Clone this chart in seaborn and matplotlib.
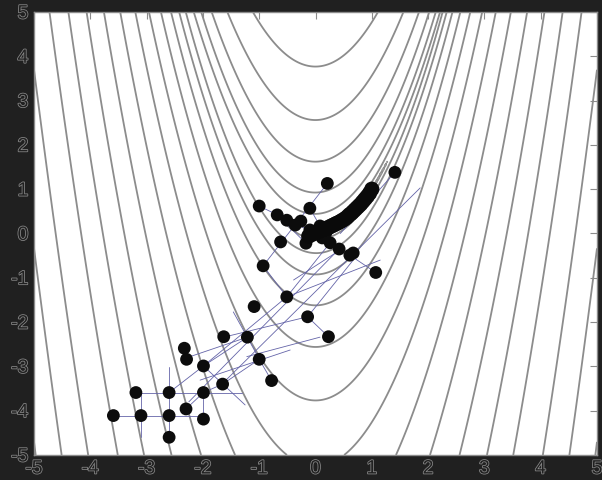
import numpy as np
import matplotlib
matplotlib.use("Agg")
import matplotlib.pyplot as plt
import matplotlib.patheffects as pe
import seaborn as sns
import pandas as pd

sns.set_style("white")
plt.rcParams["font.family"] = ["Liberation Sans", "DejaVu Sans"]

# ---- data -------------------------------------------------------------
# axis range and tick labels
x_ticks = [-5, -4, -3, -2, -1, 0, 1, 2, 3, 4, 5]
y_ticks = [-5, -4, -3, -2, -1, 0, 1, 2, 3, 4, 5]

# contour levels of the Rosenbrock surface
contour_levels = [0.084, 2.7, 20.6, 86.5, 264, 657, 1421, 2766, 4962,
                  8346, 13330, 20380, 30060, 45400, 64200, 88250, 118400]

# iterates visited by the optimizers
iter_x = [-3.59, -3.10, -2.60, -2.60, -1.99, -2.30, -3.19, -2.60, -1.99,
          -1.65, -1.99, -2.33, -2.29, -1.63, -1.21, -1.00, -0.78, -0.93,
          1.07, -0.51, -1.09, -0.14, 0.23, 0.42, 0.61, 0.67, 1.41, 0.21,
          -1.00, -0.10, -0.68, -0.51, -0.26, -0.36, -0.62, -0.17, 0.08,
          -0.10, -0.04, 0.12, 0.26, 0.19]
iter_y = [-4.11, -4.11, -4.11, -4.60, -4.19, -3.96, -3.59, -3.59, -3.59,
          -3.40, -2.99, -2.59, -2.84, -2.33, -2.34, -2.84, -3.32, -0.73,
          -0.88, -1.43, -1.65, -1.88, -2.33, -0.35, -0.49, -0.44, 1.38, 1.13,
          0.62, 0.57, 0.42, 0.30, 0.28, 0.19, -0.19, -0.22, 0.17,
          0.08, 0.01, -0.10, -0.21, 0.03]

# dense run of iterates creeping along the valley floor
valley_x = [-0.12, -0.06, 0.00, 0.04, 0.08, 0.12, 0.16, 0.20, 0.24, 0.28,
            0.32, 0.36, 0.40, 0.44, 0.48, 0.52, 0.56, 0.60, 0.64, 0.68,
            0.72, 0.76, 0.80, 0.84, 0.88, 0.92, 0.96, 1.00]
valley_y = [-0.06, -0.02, 0.02, 0.04, 0.07, 0.09, 0.11, 0.12, 0.14, 0.17,
            0.19, 0.22, 0.24, 0.27, 0.30, 0.33, 0.37, 0.42, 0.46, 0.51,
            0.56, 0.61, 0.66, 0.72, 0.78, 0.84, 0.91, 1.00]

# trailing trial points past the minimum
trail_x = [1.04, 1.08, 1.12, 1.16, 1.20, 1.24]
trail_y = [1.08, 1.17, 1.25, 1.35, 1.44, 1.54]

# search directions / steps (start x, start y, end x, end y)
seg_x0 = [-3.10, -3.10, -3.59, -2.60, -1.99, -2.60, -1.99, -1.99, -1.65,
          -2.30, -1.99, -2.23, -2.05, -1.00, -0.93, -0.14, -1.46, -1.99,
          -1.63, -1.22, -0.14, -0.51, -0.39, 0.61, -0.93, -1.00, 1.41,
          -1.63, -2.25, -0.51, -0.10, -0.68]
seg_y0 = [-3.59, -3.59, -4.11, -3.01, -3.59, -3.59, -2.99, -3.59, -3.40,
          -3.96, -2.99, -2.78, -3.31, -2.84, -0.73, -1.88, -1.77, -2.99,
          -2.34, -2.78, -1.88, -1.43, -1.05, -0.49, -0.73, 0.62, 1.38,
          -3.36, -3.80, -1.43, 0.57, 0.42]
seg_x1 = [-1.31, -3.10, -1.99, -2.60, -1.99, -1.99, -1.25, -1.65, -1.00,
          -1.99, -1.21, -1.21, -0.45, -0.78, -0.51, 0.23, -1.00, -0.51,
          -0.14, 0.08, 0.67, 1.15, 0.44, 1.07, 0.21, -0.13, 0.44,
          1.86, 0.42, 0.26, 0.08, -0.17]
seg_y1 = [-3.59, -4.59, -4.11, -4.60, -4.11, -2.99, -3.87, -3.40, -2.84,
          -3.59, -2.34, -2.34, -2.63, -3.32, -1.43, -2.33, -2.83, -1.43,
          -1.88, -2.34, -0.60, -0.60, -0.37, -0.88, 1.13, 0.08, 0.00,
          1.03, -0.35, -0.21, 0.17, -0.22]

# ---- figure -----------------------------------------------------------
bg = "#202020"
fig = plt.figure(figsize=(6.02, 4.8), dpi=100, facecolor=bg)
ax = fig.add_axes([34 / 602, 25 / 480, 563 / 602, 443 / 480])
ax.set_facecolor("white")

# Rosenbrock surface
gx = np.linspace(-5, 5, 500)
gy = np.linspace(-5, 5, 500)
X, Y = np.meshgrid(gx, gy)
Z = (1 - X) ** 2 + 100 * (Y - X ** 2) ** 2
ax.contour(X, Y, Z, levels=contour_levels, colors="#8c8c8c", linewidths=1.3,
           zorder=1)

# search steps
line_color = "#6464a8"
for a, b, c, d in zip(seg_x0, seg_y0, seg_x1, seg_y1):
    sns.lineplot(x=[a, c], y=[b, d], ax=ax, color=line_color, lw=0.6,
                 sort=False, estimator=None, zorder=2)

# trailing trial points and markers at the minimum
sns.scatterplot(x=trail_x, y=trail_y, ax=ax, s=4, color="#9a9a9a",
                edgecolor="none", zorder=2)
sns.scatterplot(x=[0.98, 1.03], y=[1.0, 1.02], ax=ax, s=30, marker="x",
                color="#e07070", linewidth=0.6, zorder=2)

# iterates
pts = pd.DataFrame({"x": iter_x, "y": iter_y})
sns.scatterplot(data=pts, x="x", y="y", ax=ax, s=85, color="#0c0c0c",
                edgecolor="none", zorder=3)
run = pd.DataFrame({"x": valley_x, "y": valley_y})
sns.scatterplot(data=run, x="x", y="y", ax=ax, s=120, color="#0a0a0a",
                edgecolor="none", zorder=3)

ax.set_xlim(-5, 5)
ax.set_ylim(-5, 5)
ax.set_xlabel("")
ax.set_ylabel("")
ax.set_xticks(x_ticks)
ax.set_yticks(y_ticks)
ax.set_xticklabels([str(t) for t in x_ticks])
ax.set_yticklabels([str(t) for t in y_ticks])
ax.tick_params(direction="in", length=5, width=0.8, color="#8c8c8c",
               top=True, right=True, labelsize=14, labelcolor=bg, pad=4)
for sp in ax.spines.values():
    sp.set_color("#8c8c8c")
    sp.set_linewidth(1.0)

outline = [pe.withStroke(linewidth=1.1, foreground="#8a8a8a")]
for lbl in ax.get_xticklabels() + ax.get_yticklabels():
    lbl.set_path_effects(outline)

fig.savefig("out.png", dpi=100, facecolor=bg)
